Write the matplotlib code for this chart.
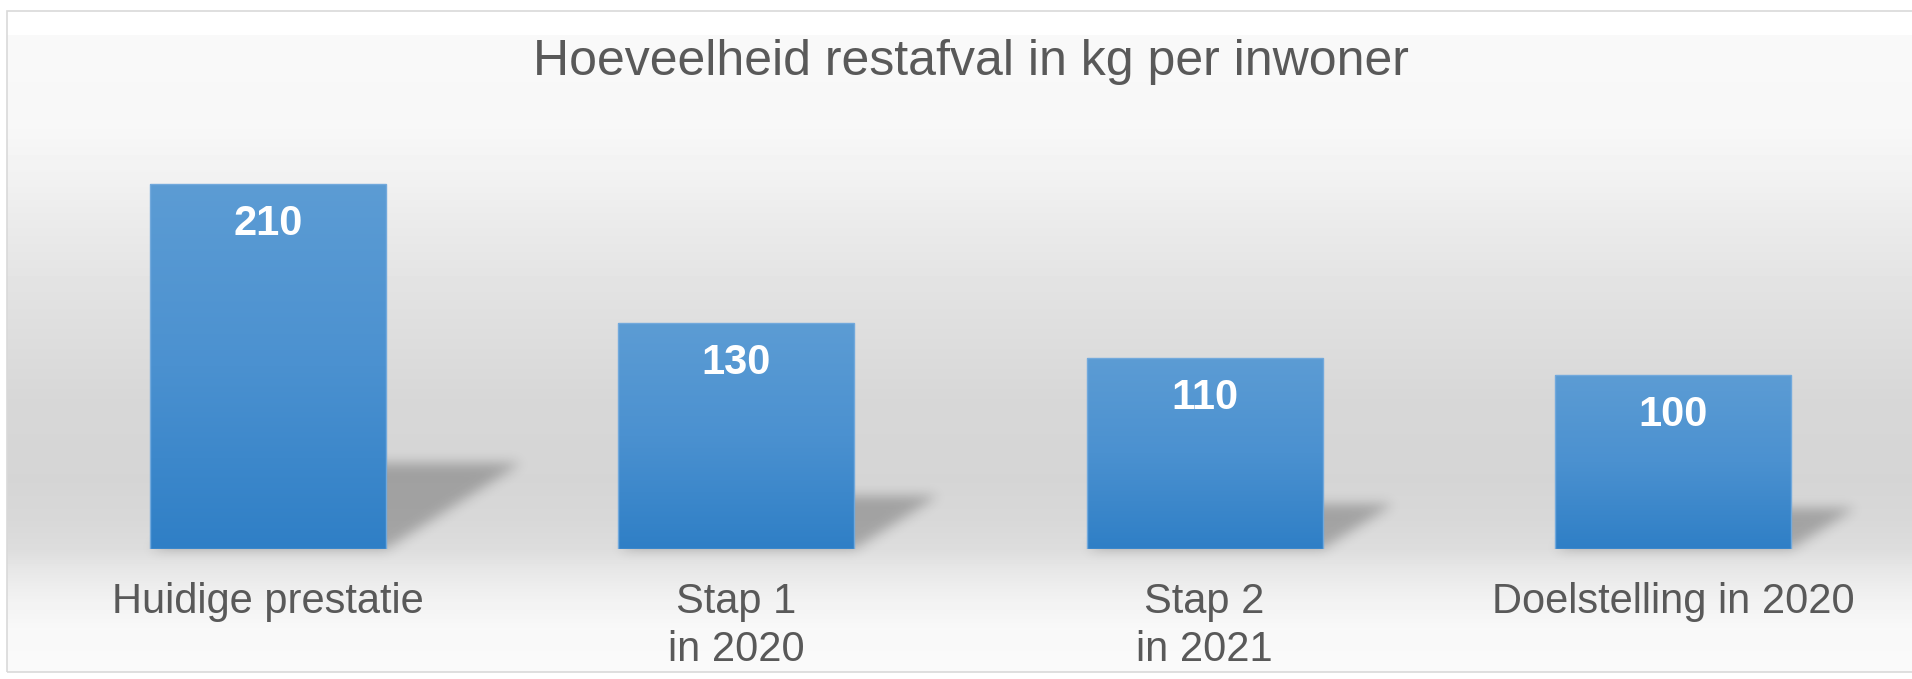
import numpy as np
import matplotlib
matplotlib.use("Agg")
import matplotlib.pyplot as plt
from matplotlib.patches import Polygon, Rectangle
from matplotlib import transforms

# data
categories = ["Huidige prestatie", "Stap 1\nin 2020", "Stap 2\nin 2021", "Doelstelling in 2020"]
values = [210, 130, 110, 100]
title = "Hoeveelheid restafval in kg per inwoner"

W, H = 1912, 679
plt.rcParams['font.family'] = ['Liberation Sans', 'DejaVu Sans']
text_color = '#595959'

fig = plt.figure(figsize=(W / 100, H / 100), dpi=100)
fig.patch.set_facecolor('white')

# background gradient of the chart area (white -> grey -> white)
frame_left, frame_top, frame_bottom = 7, 11, 672
bg = fig.add_axes([frame_left / W, (H - frame_bottom) / H, 1.0, (frame_bottom - frame_top) / H], zorder=0)
rows = np.arange(frame_top, frame_bottom)
stop_y = [11, 34, 35, 130, 180, 220, 300, 340, 400, 480, 520, 549, 567, 585, 605, 627, 672]
stop_g = [255, 255, 249, 247, 241, 235, 225, 221, 215, 213, 216, 221, 230, 237, 243, 248, 250]
grey = np.interp(rows, stop_y, stop_g) / 255.0
bg.imshow(np.repeat(grey[:, None], 2, axis=1), cmap='gray', vmin=0, vmax=1, aspect='auto',
          extent=(0, 1, 0, 1), interpolation='nearest')
bg.set_axis_off()
fig.patches.append(Rectangle((frame_left / W, (H - frame_bottom) / H), 1.2, (frame_bottom - frame_top) / H,
                             transform=fig.transFigure, fill=False, edgecolor='#d9d9d9', lw=1.2, zorder=1))

# plot area
ax_left, ax_right, ax_bottom_px, ymax = 34, 1907, 549, 250
px_per_unit = 1.738
ax_h = ymax * px_per_unit
ax = fig.add_axes([ax_left / W, (H - ax_bottom_px) / H, (ax_right - ax_left) / W, ax_h / H], zorder=2)
ax.set_facecolor('none')
ax.set_xlim(-0.5, len(values) - 0.5)
ax.set_ylim(0, ymax)
ax.set_axis_off()

x = np.arange(len(values))
bar_w = 0.504
# pixel aspect to convert shadow skew into data units
ppx = (ax_right - ax_left) / len(values)
ppy = px_per_unit


def blur_shadow(im, dpi):
    pad = 20
    a = np.pad(im[:, :, 3], pad)
    k = np.exp(-0.5 * (np.arange(-pad, pad + 1) / 6.0) ** 2)
    k /= k.sum()
    a = np.apply_along_axis(lambda r: np.convolve(r, k, mode='same'), 0, a)
    a = np.apply_along_axis(lambda r: np.convolve(r, k, mode='same'), 1, a)
    out = np.zeros(a.shape + (4,))
    out[..., 3] = a * 0.25
    return out, -pad, -pad


# shadows behind the bars
for xi, v in zip(x, values):
    dy = 0.236 * v
    dx = 0.37 * v * ppy / ppx
    l, r = xi - bar_w / 2, xi + bar_w / 2
    shadow = Polygon([(l, 0), (r, 0), (r + dx, dy), (l + dx, dy)], closed=True,
                     facecolor='black', edgecolor='none', zorder=1)
    shadow.set_agg_filter(blur_shadow)
    ax.add_patch(shadow)

# bars with a vertical blue gradient
bars = ax.bar(x, values, width=bar_w, facecolor='none', edgecolor='#72a9dc', linewidth=1.0, zorder=3)
grad = np.linspace(0, 1, 256)[:, None]
cmap = matplotlib.colors.LinearSegmentedColormap.from_list('bar', ['#2f7fc6', '#4b91d0', '#5c9cd4'])
for b in bars:
    im = ax.imshow(grad, cmap=cmap, aspect='auto', origin='lower', zorder=2,
                   extent=(b.get_x(), b.get_x() + b.get_width(), 0, b.get_height()))
    im.set_clip_path(b)

# value labels inside bars
for xi, v in zip(x, values):
    ax.annotate(str(v), (xi, v), xytext=(0, -51 * 0.72), textcoords='offset points',
                ha='center', va='baseline', color='white', fontsize=30, fontweight='bold', zorder=4)

# category labels
trans = transforms.blended_transform_factory(ax.transData, fig.transFigure)
for xi, lab in zip(x, categories):
    for j, line in enumerate(lab.split('\n')):
        ax.text(xi, 1 - (613 + 48 * j) / H, line, transform=trans, ha='center', va='baseline',
                fontsize=30, color=text_color, clip_on=False)

fig.text(971 / W, 1 - 75 / H, title, ha='center', va='baseline', fontsize=36, color=text_color)

fig.savefig('out.png', dpi=100)
